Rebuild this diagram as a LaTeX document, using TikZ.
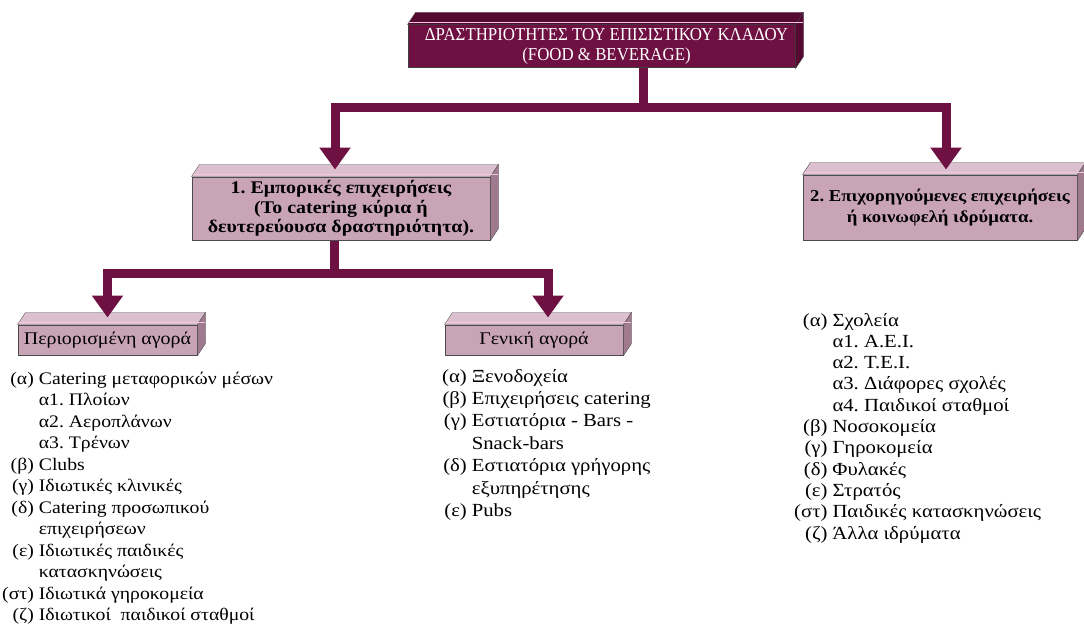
\documentclass[tikz,border=0pt]{standalone}
\usepackage{fontspec}
\setmainfont{Liberation Serif}[FakeStretch=1.12]
\newfontfamily\capsfont{Liberation Serif}[FakeStretch=0.92]
\usetikzlibrary{arrows.meta}
\frenchspacing

\definecolor{maroon}{HTML}{6E1042}
\definecolor{maroondark}{HTML}{560A32}
\definecolor{boxfront}{HTML}{C9A4B7}
\definecolor{boxtop}{HTML}{DDC0CF}
\definecolor{boxside}{HTML}{A07A8E}
\definecolor{glow}{HTML}{F2C6DC}

\tikzset{
  mainbox/.style={fill=maroon, draw=black!75, line width=1pt, text=white, inner sep=0pt,
    minimum width=387pt, minimum height=43pt, align=center,
    font=\capsfont\fontsize{18.3}{20.5}\selectfont},
  groupbox/.style={fill=boxfront, draw=black!70, line width=1pt, inner sep=0pt, align=center},
  marketbox/.style={fill=boxfront, draw=black!70, line width=1pt, inner sep=0pt, align=center,
    minimum height=30pt, font=\fontsize{17.8}{20}\selectfont},
  flow/.style={draw=maroon, line width=9pt, -{Triangle[width=30pt,length=22pt]}},
  itemlist/.style={anchor=base west, inner sep=0pt, font=\fontsize{18.5}{21.5}\selectfont}
}

\begin{document}
\begin{tikzpicture}[x=1pt, y=-1pt]
    \useasboundingbox (0,0) rectangle (1084,626);

    % the boxes
    \node[mainbox] (top) at (601.5,46.5)
        {\hspace*{10pt}ΔΡΑΣΤΗΡΙΟΤΗΤΕΣ ΤΟΥ ΕΠΙΣΙΣΤΙΚΟΥ ΚΛΑΔΟΥ\\\hspace*{10pt}(FOOD \& BEVERAGE)};
    \node[groupbox, minimum width=298pt, minimum height=63pt,
        font=\bfseries\fontsize{17.8}{19.5}\selectfont] (commercial) at (341,208.5)
        {1. Εμπορικές επιχειρήσεις\\(Το catering κύρια ή\\δευτερεύουσα δραστηριότητα).};
    \node[groupbox, minimum width=274pt, minimum height=65pt,
        font=\bfseries\fontsize{16.7}{21}\selectfont] (subsidized) at (940,207.5)
        {2. Επιχορηγούμενες επιχειρήσεις\\ή κοινωφελή ιδρύματα.};
    \node[marketbox, minimum width=179pt] (limited) at (107.5,340) {Περιορισμένη αγορά};
    \node[marketbox, minimum width=178pt] (general) at (534,340) {Γενική αγορά};

    % the top and side faces of the boxes
    \fill[maroondark, draw=black!75] (top.north west) -- ++(8,-12)
        -- ([shift={(8,-12)}]top.north east) -- (top.north east) -- cycle;
    \fill[maroondark, draw=black!75] (top.north east) -- ++(8,-12)
        -- ([shift={(8,-12)}]top.south east) -- (top.south east) -- cycle;
    \draw[glow, line width=1.5pt] ([shift={(1,-2)}]top.north west) -- ([shift={(7,-2)}]top.north east);
    \foreach \b in {commercial, subsidized, limited, general} {
        \fill[boxtop, draw=black!70] (\b.north west) -- ++(8,-12)
            -- ([shift={(8,-12)}]\b.north east) -- (\b.north east) -- cycle;
        \fill[boxside, draw=black!70] (\b.north east) -- ++(8,-12)
            -- ([shift={(8,-12)}]\b.south east) -- (\b.south east) -- cycle;
        \draw[glow, line width=1.5pt] ([shift={(1,-2)}]\b.north west) -- ([shift={(7,-2)}]\b.north east);
    }

    % the branching points
    \coordinate (split1) at (643,107);
    \coordinate (split2) at (334,273);

    % draw the arrows
    \draw[flow] (top.south -| split1) -- (split1) -| ([xshift=-6pt, yshift=7pt]commercial.north);
    \draw[flow] (split1) -| ([xshift=6pt, yshift=5pt]subsidized.north);
    \draw[flow] (commercial.south -| split2) -- (split2) -| ([yshift=7pt]limited.north);
    \draw[flow] (split2) -| ([xshift=14pt, yshift=7pt]general.north);

    % the lists under the boxes
    \node[itemlist, font=\fontsize{17.6}{21.5}\selectfont] (limitedlist) at (2,384) {\begin{tabular}[t]{@{}r@{\hspace{5pt}}l@{}}
        (α) & Catering μεταφορικών μέσων\\
            & α1. Πλοίων\\
            & α2. Αεροπλάνων\\
            & α3. Τρένων\\
        (β) & Clubs\\
        (γ) & Ιδιωτικές κλινικές\\
        (δ) & Catering προσωπικού\\
            & επιχειρήσεων\\
        (ε) & Ιδιωτικές παιδικές\\
            & κατασκηνώσεις\\
        (στ) & Ιδιωτικά γηροκομεία\\
        (ζ) & Ιδιωτικοί\ \ παιδικοί σταθμοί
    \end{tabular}};
    \node[itemlist, font=\fontsize{18.5}{22.4}\selectfont] (generallist) at (442,382) {\begin{tabular}[t]{@{}r@{\hspace{5pt}}l@{}}
        (α) & Ξενοδοχεία\\
        (β) & Επιχειρήσεις catering\\
        (γ) & Εστιατόρια - Bars -\\
            & Snack-bars\\
        (δ) & Εστιατόρια γρήγορης\\
            & εξυπηρέτησης\\
        (ε) & Pubs
    \end{tabular}};
    \node[itemlist, font=\fontsize{18.5}{21.3}\selectfont] (subsidizedlist) at (794,326) {\begin{tabular}[t]{@{}r@{\hspace{5pt}}l@{}}
        (α) & Σχολεία\\
            & α1. Α.Ε.Ι.\\
            & α2. Τ.Ε.Ι.\\
            & α3. Διάφορες σχολές\\
            & α4. Παιδικοί σταθμοί\\
        (β) & Νοσοκομεία\\
        (γ) & Γηροκομεία\\
        (δ) & Φυλακές\\
        (ε) & Στρατός\\
        (στ) & Παιδικές κατασκηνώσεις\\
        (ζ) & Άλλα ιδρύματα
    \end{tabular}};
\end{tikzpicture}
\end{document}
